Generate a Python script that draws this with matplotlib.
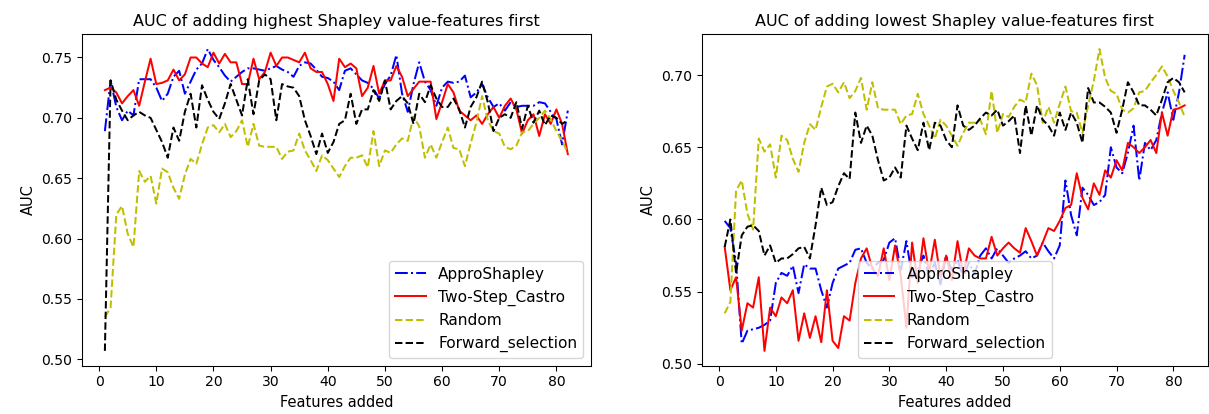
import numpy as np
import matplotlib
matplotlib.use("Agg")
import matplotlib.pyplot as plt

features = np.arange(1, 83)

# highest Shapley value first
high_appro = [0.689, 0.731, 0.709, 0.698, 0.706, 0.702, 0.732, 0.732, 0.732, 0.725,
              0.714, 0.720, 0.734, 0.739, 0.720, 0.730, 0.740, 0.745, 0.757, 0.748,
              0.742, 0.735, 0.730, 0.734, 0.738, 0.741, 0.741, 0.740, 0.739, 0.741,
              0.743, 0.740, 0.738, 0.734, 0.743, 0.746, 0.745, 0.740, 0.734, 0.733,
              0.730, 0.723, 0.739, 0.741, 0.736, 0.731, 0.729, 0.724, 0.716, 0.728,
              0.735, 0.752, 0.720, 0.705, 0.728, 0.746, 0.730, 0.723, 0.710, 0.725,
              0.730, 0.729, 0.730, 0.735, 0.717, 0.721, 0.728, 0.717, 0.709, 0.712,
              0.706, 0.713, 0.709, 0.710, 0.710, 0.710, 0.713, 0.712, 0.705, 0.699,
              0.678, 0.706]
high_castro = [0.723, 0.725, 0.721, 0.712, 0.718, 0.723, 0.710, 0.730, 0.749, 0.728,
               0.729, 0.731, 0.740, 0.731, 0.736, 0.750, 0.750, 0.745, 0.742, 0.754,
               0.745, 0.753, 0.746, 0.746, 0.728, 0.728, 0.749, 0.732, 0.738, 0.754,
               0.743, 0.750, 0.750, 0.748, 0.746, 0.754, 0.741, 0.738, 0.738, 0.728,
               0.714, 0.749, 0.742, 0.745, 0.741, 0.718, 0.725, 0.743, 0.720, 0.731,
               0.731, 0.743, 0.734, 0.718, 0.724, 0.730, 0.730, 0.730, 0.699, 0.713,
               0.728, 0.721, 0.706, 0.702, 0.698, 0.702, 0.695, 0.703, 0.709, 0.700,
               0.710, 0.716, 0.707, 0.687, 0.698, 0.703, 0.685, 0.703, 0.695, 0.707,
               0.695, 0.670]
high_forward = [0.507, 0.731, 0.715, 0.706, 0.698, 0.702, 0.705, 0.702, 0.700, 0.690,
                0.680, 0.667, 0.692, 0.681, 0.705, 0.720, 0.692, 0.727, 0.715, 0.705,
                0.699, 0.712, 0.728, 0.715, 0.702, 0.732, 0.703, 0.731, 0.736, 0.732,
                0.698, 0.728, 0.726, 0.725, 0.718, 0.698, 0.685, 0.670, 0.687, 0.671,
                0.680, 0.695, 0.698, 0.720, 0.695, 0.707, 0.707, 0.723, 0.714, 0.731,
                0.707, 0.714, 0.718, 0.712, 0.695, 0.720, 0.713, 0.727, 0.716, 0.709,
                0.709, 0.716, 0.707, 0.692, 0.709, 0.717, 0.730, 0.713, 0.689, 0.700,
                0.703, 0.700, 0.713, 0.691, 0.710, 0.696, 0.706, 0.694, 0.702, 0.700,
                0.695, 0.698]

# random order is the same curve in both panels
random_auc = [0.535, 0.543, 0.620, 0.627, 0.604, 0.593, 0.656, 0.647, 0.652, 0.629,
              0.658, 0.655, 0.642, 0.633, 0.653, 0.666, 0.662, 0.678, 0.692, 0.694,
              0.688, 0.695, 0.684, 0.689, 0.698, 0.676, 0.695, 0.677, 0.676, 0.676,
              0.676, 0.666, 0.672, 0.673, 0.687, 0.673, 0.665, 0.656, 0.669, 0.665,
              0.658, 0.651, 0.660, 0.667, 0.667, 0.669, 0.659, 0.689, 0.660, 0.673,
              0.671, 0.678, 0.683, 0.681, 0.701, 0.693, 0.667, 0.678, 0.667, 0.680,
              0.692, 0.675, 0.674, 0.660, 0.679, 0.696, 0.718, 0.698, 0.689, 0.687,
              0.676, 0.674, 0.677, 0.688, 0.689, 0.695, 0.700, 0.706, 0.699, 0.689,
              0.681, 0.671]

# lowest Shapley value first
low_appro = [0.599, 0.594, 0.570, 0.514, 0.523, 0.524, 0.525, 0.527, 0.530, 0.556,
             0.563, 0.561, 0.568, 0.549, 0.569, 0.566, 0.566, 0.551, 0.539, 0.556,
             0.566, 0.568, 0.570, 0.579, 0.580, 0.570, 0.566, 0.570, 0.572, 0.584,
             0.587, 0.565, 0.585, 0.560, 0.565, 0.575, 0.560, 0.570, 0.555, 0.575,
             0.565, 0.572, 0.560, 0.570, 0.562, 0.575, 0.580, 0.573, 0.580, 0.575,
             0.570, 0.573, 0.575, 0.578, 0.573, 0.575, 0.584, 0.578, 0.573, 0.582,
             0.627, 0.603, 0.589, 0.622, 0.617, 0.610, 0.612, 0.617, 0.650, 0.636,
             0.632, 0.646, 0.665, 0.627, 0.653, 0.648, 0.655, 0.674, 0.688, 0.669,
             0.688, 0.714]
low_castro = [0.581, 0.551, 0.560, 0.523, 0.542, 0.539, 0.560, 0.509, 0.539, 0.533,
              0.546, 0.542, 0.551, 0.516, 0.535, 0.518, 0.533, 0.515, 0.551, 0.516,
              0.511, 0.533, 0.530, 0.556, 0.573, 0.580, 0.566, 0.561, 0.580, 0.558,
              0.582, 0.561, 0.525, 0.584, 0.556, 0.587, 0.563, 0.586, 0.560, 0.575,
              0.558, 0.585, 0.562, 0.580, 0.575, 0.573, 0.573, 0.588, 0.575, 0.580,
              0.584, 0.580, 0.577, 0.594, 0.585, 0.575, 0.584, 0.594, 0.592, 0.599,
              0.608, 0.610, 0.632, 0.615, 0.607, 0.625, 0.617, 0.634, 0.629, 0.641,
              0.634, 0.653, 0.650, 0.646, 0.650, 0.655, 0.646, 0.674, 0.658, 0.676,
              0.677, 0.679]
low_forward = [0.581, 0.600, 0.563, 0.589, 0.595, 0.596, 0.592, 0.575, 0.582, 0.570,
               0.573, 0.573, 0.576, 0.580, 0.581, 0.573, 0.596, 0.622, 0.610, 0.612,
               0.623, 0.632, 0.628, 0.674, 0.653, 0.665, 0.658, 0.641, 0.627, 0.629,
               0.636, 0.629, 0.665, 0.656, 0.648, 0.667, 0.648, 0.667, 0.665, 0.655,
               0.650, 0.679, 0.665, 0.662, 0.665, 0.670, 0.674, 0.672, 0.676, 0.665,
               0.668, 0.672, 0.646, 0.679, 0.658, 0.679, 0.669, 0.665, 0.658, 0.674,
               0.662, 0.674, 0.667, 0.653, 0.691, 0.681, 0.681, 0.678, 0.674, 0.660,
               0.676, 0.695, 0.688, 0.679, 0.679, 0.676, 0.672, 0.683, 0.695, 0.698,
               0.695, 0.688]

plt.rcParams["xtick.labelsize"] = 10.5
plt.rcParams["ytick.labelsize"] = 10.5
plt.rcParams["axes.labelsize"] = 11

fig = plt.figure(figsize=(1209 / 96, 414 / 96), dpi=96)
ax1 = fig.add_axes([0.0676, 0.116, 0.4212, 0.802])
ax2 = fig.add_axes([0.5804, 0.116, 0.4185, 0.802])

ax1.plot(features, high_appro, "b-.", label="ApproShapley")
ax1.plot(features, high_castro, "r", label="Two-Step_Castro")
ax1.plot(features, random_auc, "y--", label="Random")
ax1.plot(features, high_forward, "k--", label="Forward_selection")
ax1.set_title("AUC of adding highest Shapley value-features first", fontsize=12)
ax1.set_xlabel("Features added")
ax1.set_ylabel("AUC")
ax1.legend(loc="lower right", fontsize=11.5)

ax2.plot(features, low_appro, "b-.", label="ApproShapley")
ax2.plot(features, low_castro, "r", label="Two-Step_Castro")
ax2.plot(features, random_auc, "y--", label="Random")
ax2.plot(features, low_forward, "k--", label="Forward_selection")
ax2.set_title("AUC of adding lowest Shapley value-features first", fontsize=12)
ax2.set_xlabel("Features added")
ax2.set_ylabel("AUC")
ax2.legend(loc="lower center", fontsize=11.5)

fig.savefig("out.png", dpi=96)
